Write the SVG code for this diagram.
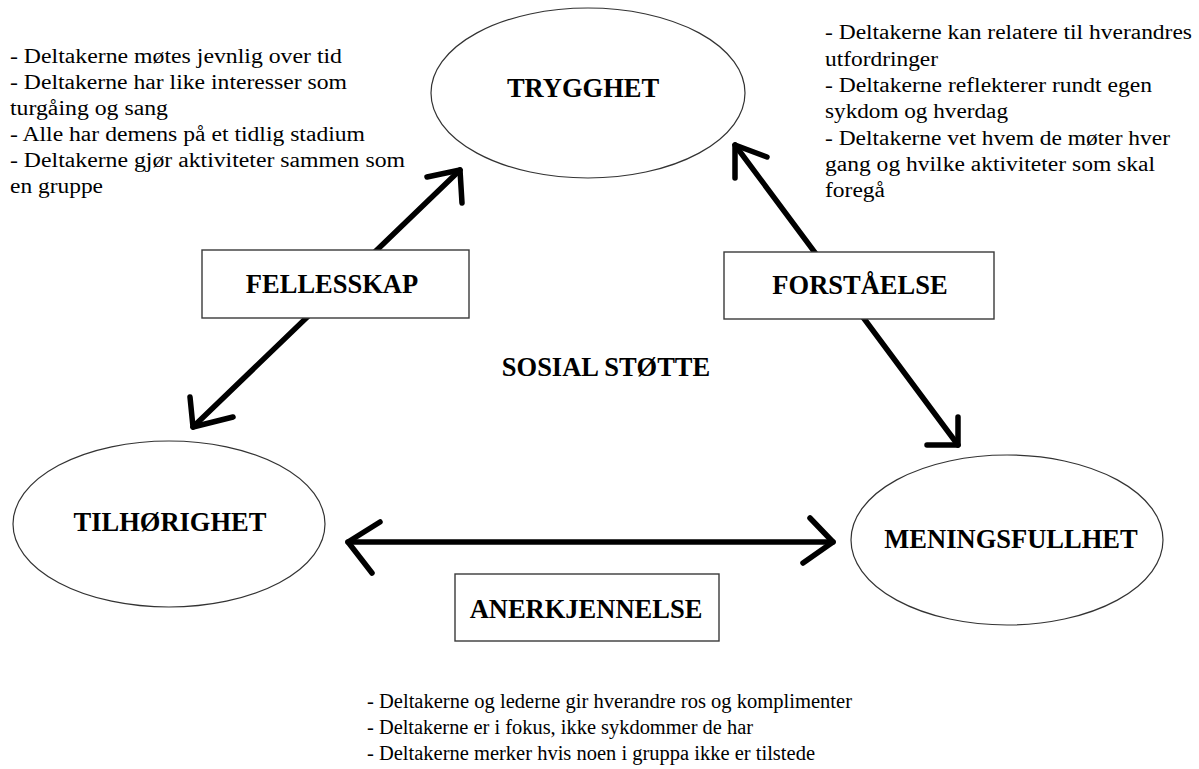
<svg xmlns="http://www.w3.org/2000/svg" width="1199" height="769" viewBox="0 0 1199 769">
<style>
.bg{fill:#ffffff}
.node{fill:#ffffff;stroke:#333333;stroke-width:1.2}
.box{fill:#ffffff;stroke:#3a3a3a;stroke-width:1.4}
.lbl{font-family:"Liberation Serif","Times New Roman",serif;font-weight:bold;font-size:26.5px;fill:#000;text-anchor:middle}
.txt{font-family:"Liberation Serif","Tinos","Times New Roman","DejaVu Serif",serif;font-weight:400;font-style:normal;font-size:20.5px;fill:#000}
.arr{fill:none;stroke:#000;stroke-width:5.5;stroke-linecap:round;stroke-linejoin:round}
</style>
<rect class="bg" x="0" y="0" width="1199" height="769"/>
<g id="connectors">
<path class="arr" d="M193,427 L460,170"/>
<path class="arr" d="M427,177 L460,170 L462,203"/>
<path class="arr" d="M190,397 L193,427 L233,417"/>
<path class="arr" d="M735,145 L958,445"/>
<path class="arr" d="M767,157 L735,145 L735,178"/>
<path class="arr" d="M958,417 L958,445 L927,445"/>
<path class="arr" d="M348,542 L833,542"/>
<path class="arr" d="M380,522 L348,542 L372,573"/>
<path class="arr" d="M810,518 L833,542 L803,563"/>
</g>
<g id="trygghet">
<ellipse class="node" cx="588" cy="93" rx="157" ry="85"/>
<text class="lbl" x="583" y="97">TRYGGHET</text>
</g>
<g id="tilhorighet">
<ellipse class="node" cx="169" cy="524" rx="156" ry="83"/>
<text class="lbl" x="170" y="531">TILHØRIGHET</text>
</g>
<g id="meningsfullhet">
<ellipse class="node" cx="1007" cy="540" rx="156" ry="85"/>
<text class="lbl" x="1011" y="548">MENINGSFULLHET</text>
</g>
<g id="fellesskap">
<rect class="box" x="202" y="250" width="267" height="68"/>
<text class="lbl" x="332" y="293">FELLESSKAP</text>
</g>
<g id="forstaelse">
<rect class="box" x="724" y="252" width="270" height="67"/>
<text class="lbl" x="860" y="294">FORSTÅELSE</text>
</g>
<g id="anerkjennelse">
<rect class="box" x="455" y="574" width="264" height="67"/>
<text class="lbl" x="586" y="618">ANERKJENNELSE</text>
</g>
<g id="sosial-stotte">
<text class="lbl" x="606" y="376">SOSIAL STØTTE</text>
</g>
<g id="text-left">
<text class="txt" x="10" y="63" textLength="332" lengthAdjust="spacingAndGlyphs">- Deltakerne møtes jevnlig over tid</text>
<text class="txt" x="10" y="89" textLength="337" lengthAdjust="spacingAndGlyphs">- Deltakerne har like interesser som</text>
<text class="txt" x="10" y="115" textLength="158" lengthAdjust="spacingAndGlyphs">turgåing og sang</text>
<text class="txt" x="10" y="141" textLength="355" lengthAdjust="spacingAndGlyphs">- Alle har demens på et tidlig stadium</text>
<text class="txt" x="10" y="167" textLength="395" lengthAdjust="spacingAndGlyphs">- Deltakerne gjør aktiviteter sammen som</text>
<text class="txt" x="10" y="193" textLength="93" lengthAdjust="spacingAndGlyphs">en gruppe</text>
</g>
<g id="text-right">
<text class="txt" x="825" y="39" textLength="367" lengthAdjust="spacingAndGlyphs">- Deltakerne kan relatere til hverandres</text>
<text class="txt" x="825" y="66" textLength="113" lengthAdjust="spacingAndGlyphs">utfordringer</text>
<text class="txt" x="825" y="92" textLength="327" lengthAdjust="spacingAndGlyphs">- Deltakerne reflekterer rundt egen</text>
<text class="txt" x="825" y="118" textLength="183" lengthAdjust="spacingAndGlyphs">sykdom og hverdag</text>
<text class="txt" x="825" y="145" textLength="345" lengthAdjust="spacingAndGlyphs">- Deltakerne vet hvem de møter hver</text>
<text class="txt" x="825" y="171" textLength="330" lengthAdjust="spacingAndGlyphs">gang og hvilke aktiviteter som skal</text>
<text class="txt" x="825" y="197" textLength="60" lengthAdjust="spacingAndGlyphs">foregå</text>
</g>
<g id="text-bottom">
<text class="txt" x="367" y="708" textLength="485" lengthAdjust="spacingAndGlyphs">- Deltakerne og lederne gir hverandre ros og komplimenter</text>
<text class="txt" x="367" y="734" textLength="386" lengthAdjust="spacingAndGlyphs">- Deltakerne er i fokus, ikke sykdommer de har</text>
<text class="txt" x="367" y="760" textLength="448" lengthAdjust="spacingAndGlyphs">- Deltakerne merker hvis noen i gruppa ikke er tilstede</text>
</g>
</svg>
